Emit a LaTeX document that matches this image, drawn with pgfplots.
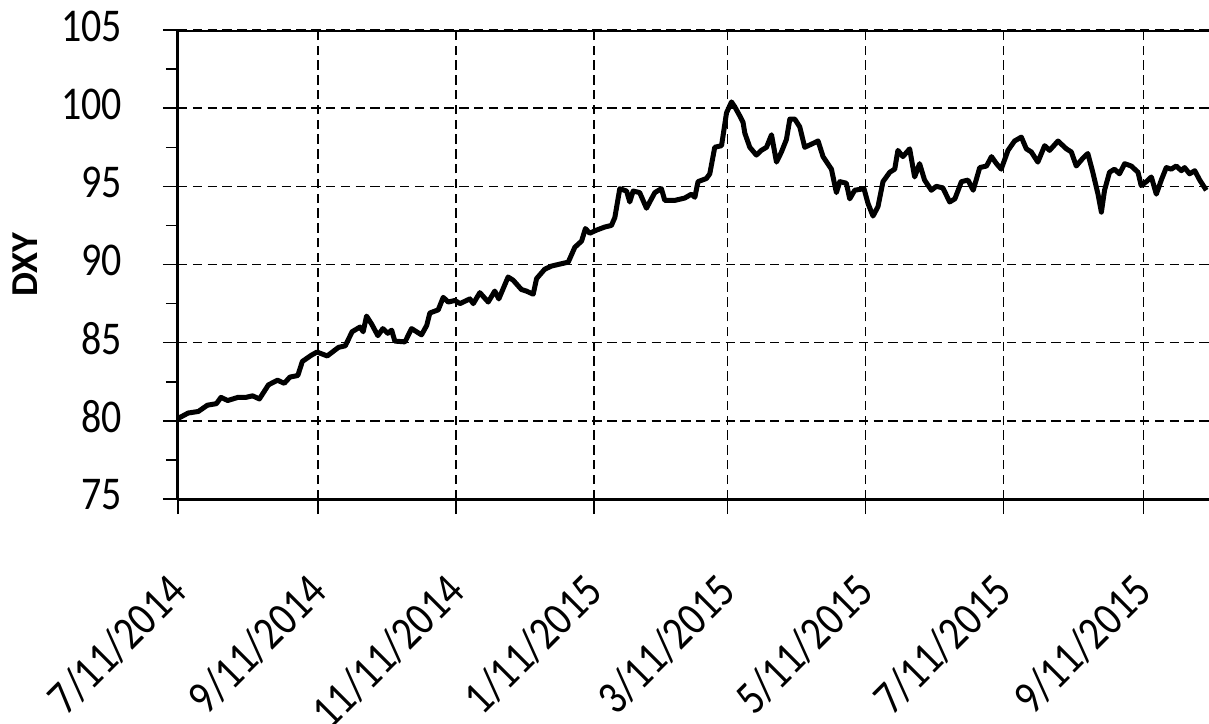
\documentclass[border=0pt]{standalone}
\usepackage{pgfplots}
\pgfplotsset{compat=1.18}
\usepackage{fontspec}
\setmainfont{Carlito}
\newfontfamily\tickfont{Carlito}[FakeStretch=0.85]
\pgfplotstableread{
d v
0 80.15
4.5 80.5
9 80.6
13 81.0
17 81.1
19 81.5
22 81.3
26.5 81.5
30 81.5
33 81.6
36 81.4
40 82.3
44 82.6
47 82.4
49.5 82.8
53 82.9
55 83.8
59 84.2
61.5 84.4
66 84.15
71 84.7
74 84.8
77 85.7
80.5 86.0
81.9 85.7
83.4 86.7
85.6 86.2
88.4 85.45
90.6 85.9
92.8 85.6
94.5 85.8
95.9 85.1
100.4 85.05
103.3 85.9
107.7 85.5
110 86.1
111.4 86.9
115.1 87.1
117.3 87.9
119.5 87.6
122.5 87.7
124.7 87.5
129.1 87.8
130.6 87.5
133.5 88.2
137.2 87.6
140.1 88.3
141.9 87.8
146 89.2
148.2 89.0
151.9 88.4
154.1 88.3
157.1 88.1
158.6 89.1
162.2 89.7
165.2 89.9
168.1 90.0
172.6 90.15
175.5 91.1
178.5 91.5
180.2 92.3
182.1 92.0
185.1 92.2
188.8 92.4
191.7 92.5
193.2 93.0
195.4 94.85
198.4 94.7
199.8 94.0
201.3 94.7
204.2 94.6
207.2 93.6
209.4 94.2
210.9 94.6
213.8 94.85
215.3 94.1
219.7 94.1
224.1 94.25
227.1 94.5
228.6 94.3
230 95.3
233.7 95.5
235.2 95.8
237.4 97.5
240.4 97.6
242.6 99.7
244.8 100.4
246.2 100.1
248.5 99.5
249.9 99.1
250.7 98.4
252.9 97.5
255.8 97.0
258 97.3
260.3 97.5
262.5 98.3
264.7 96.55
266.9 97.2
269.1 98.0
270.6 99.3
272.8 99.3
275 98.8
277.2 97.5
280.2 97.7
283.1 97.9
285.3 96.9
289 96.1
291.2 94.6
292.7 95.3
295.6 95.2
297.1 94.2
299.3 94.75
303.4 94.85
305.2 93.9
307.4 93.1
309.6 93.7
311.8 95.3
314.8 95.9
317 96.1
318.4 97.3
320.6 96.9
323.6 97.4
325.8 95.6
328 96.45
330.2 95.4
333.2 94.75
335.4 95.0
338.3 94.9
341.3 94.0
343.6 94.2
346.5 95.3
349.4 95.4
351.7 94.75
354.6 96.2
357.6 96.3
359.8 96.9
362 96.45
364.1 96.1
367.1 97.3
370 97.9
373 98.15
375.2 97.4
377.4 97.2
380.3 96.55
383.3 97.6
385.5 97.3
389.2 97.9
392.9 97.4
395.1 97.2
397.3 96.3
400.2 96.8
402.4 97.1
404.6 95.9
406.9 94.5
408.4 93.35
409.8 94.75
412 95.9
414.2 96.1
416.4 95.8
418.7 96.45
421.6 96.3
424.6 95.9
426 95.05
428.3 95.3
430.5 95.6
432.7 94.5
434.9 95.4
437.1 96.2
439.3 96.1
441.5 96.3
443.8 96.0
445.2 96.2
447.4 95.8
449.7 96.0
451.9 95.4
454.8 94.75
}\dxy
\begin{document}
\begin{tikzpicture}
\useasboundingbox (-89pt,-112pt) rectangle (515.5pt,249.5pt);
\begin{axis}[
  at={(0,0)}, anchor=south west,
  scale only axis, width=515.5pt, height=234.5pt,
  xmin=0, xmax=456, ymin=75, ymax=105,
  axis lines*=left,
  axis line style={line width=1.5pt, black},
  xtick={0,62,123,184,243,304,365,427},
  xticklabels={7/11/2014,9/11/2014,11/11/2014,1/11/2015,3/11/2015,5/11/2015,7/11/2015,9/11/2015},
  ytick={75,80,...,105},
  minor ytick={77.5,82.5,87.5,92.5,97.5,102.5},
  xmajorgrids, ymajorgrids,
  major grid style={black, line width=0.75pt, dash pattern=on 4.7pt off 2.7pt},
  tick style={black, line width=0.75pt},
  tick align=outside,
  major tick length=7.5pt, minor tick length=6pt,
  ticklabel style={font=\tickfont\fontsize{23.5}{28}\selectfont, black},
  /pgf/number format/assume math mode=true,
  yticklabel style={xshift=-17pt, yshift=2pt},
  xticklabel style={rotate=45, anchor=east, xshift=-21pt, yshift=-24.5pt},
  ylabel={DXY},
  ylabel style={font=\fontsize{19}{22}\selectfont\bfseries, at={(axis description cs:-0.1484,0.5)}, anchor=center},
]
\addplot[black, line width=2.5pt, line join=round, mark=none] table[x=d, y=v] {\dxy};
\draw[black, line width=1.5pt] (rel axis cs:0,1) -- (rel axis cs:1,1);
\end{axis}
\end{tikzpicture}
\end{document}
